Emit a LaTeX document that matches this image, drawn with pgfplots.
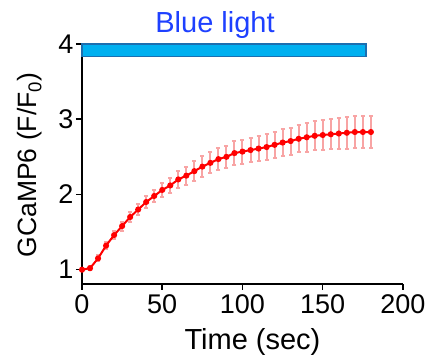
\documentclass[border=0pt]{standalone}
\usepackage{fontspec}
\setmainfont{Liberation Sans}
\usepackage{pgfplots}
\pgfplotsset{compat=1.18}
\definecolor{barfill}{HTML}{00B0F0}
\definecolor{baredge}{HTML}{1C6FB0}
\definecolor{titleblue}{HTML}{1E40FF}
\definecolor{errred}{HTML}{F8A4A4}
\pgfplotstableread{
t v e
0 1.00 0.02
5 1.02 0.03
10 1.15 0.04
15 1.32 0.05
20 1.46 0.05
25 1.58 0.06
30 1.70 0.07
35 1.80 0.07
40 1.90 0.08
45 1.98 0.08
50 2.06 0.09
55 2.12 0.10
60 2.20 0.11
65 2.25 0.12
70 2.31 0.13
75 2.37 0.14
80 2.42 0.14
85 2.47 0.15
90 2.50 0.15
95 2.55 0.16
100 2.57 0.16
105 2.59 0.16
110 2.61 0.17
115 2.63 0.17
120 2.66 0.17
125 2.69 0.18
130 2.71 0.18
135 2.74 0.18
140 2.76 0.19
145 2.78 0.19
150 2.79 0.20
155 2.80 0.20
160 2.81 0.20
165 2.82 0.21
170 2.83 0.21
175 2.83 0.21
180 2.83 0.21
}\datatable
\begin{document}
\begin{tikzpicture}[x=1pt,y=1pt]
\begin{axis}[
  scale only axis, width=321pt, height=240pt,
  xmin=0, xmax=200, ymin=0.81, ymax=4,
  axis x line*=bottom, axis y line*=left,
  axis line style={line width=1.5pt, -},
  xtick={0,50,...,200}, ytick={1,2,3,4},
  tick align=outside, major tick length=6pt,
  tick style={line width=1.5pt, black},
  ticklabel style={font=\fontsize{27}{27}\selectfont},
  /pgf/number format/assume math mode=true,
  xticklabel style={yshift=-1pt},
  yticklabel style={xshift=1pt},
  clip=false,
]
\addplot[fill=barfill, draw=baredge, line width=1.2pt] coordinates {(0,3.83) (177,3.83) (177,4) (0,4)} -- cycle;
\addplot[draw=none, mark=none, error bars/.cd, y dir=both, y explicit,
  error bar style={errred, line width=2pt},
  error mark options={errred, line width=2pt, mark size=2pt, rotate=90}]
  table[x=t, y=v, y error=e] {\datatable};
\addplot[red, line width=2pt, mark=*, mark size=2pt, mark options={fill=red, draw=red}]
  table[x=t, y=v] {\datatable};
\end{axis}
\node[anchor=base, font=\fontsize{29}{29}\selectfont, text=titleblue] at (133,251) {Blue light};
\node[anchor=base, font=\fontsize{29}{29}\selectfont] at (170.5,-66) {Time (sec)};
\node[anchor=base, rotate=90, font=\fontsize{26.5}{26.5}\selectfont] at (-45,119) {GCaMP6 (F/F\textsubscript{0})};
\pgfresetboundingbox
\path[use as bounding box] (-82,-80) rectangle (350,284);
\end{tikzpicture}
\end{document}
